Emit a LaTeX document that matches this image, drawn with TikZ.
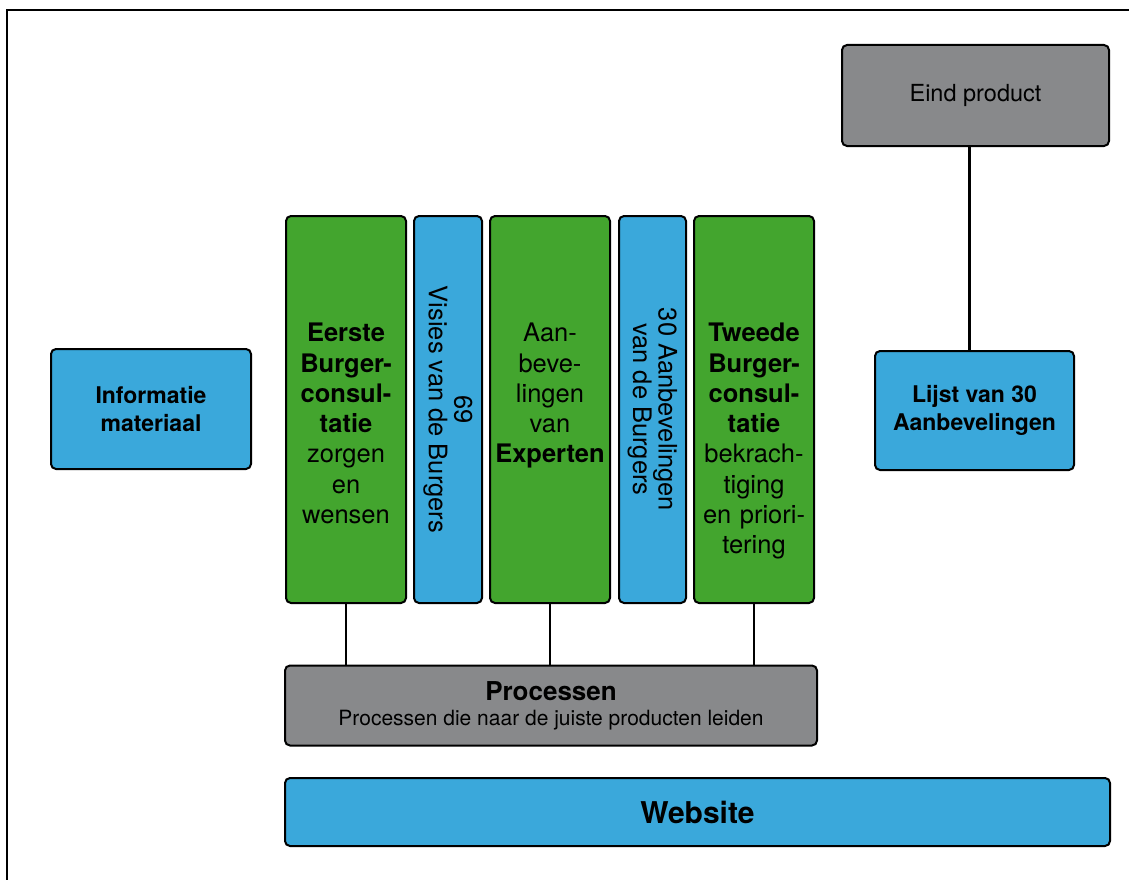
\documentclass[tikz,border=0pt]{standalone}
\usepackage{fontspec}
\setmainfont{TeX Gyre Heros}
\usetikzlibrary{positioning}

\definecolor{burgergreen}{RGB}{67,165,46}
\definecolor{burgerblue}{RGB}{58,168,219}
\definecolor{procgray}{RGB}{136,137,139}

\begin{document}
\begin{tikzpicture}[x=1pt,y=-1pt]
% Stijlen
\tikzset{
  box/.style={rectangle, rounded corners=5pt, draw=black, line width=2pt, inner sep=0pt},
  greencol/.style={box, fill=burgergreen, minimum width=120pt, minimum height=387pt},
  bluecol/.style={box, fill=burgerblue, minimum width=68pt, minimum height=387pt},
  bluebox/.style={box, fill=burgerblue, align=center, font=\fontsize{23}{28}\selectfont\bfseries},
  graybox/.style={box, fill=procgray, align=center},
  coltext/.style={anchor=north, inner sep=0pt, text width=120pt, align=center, font=\fontsize{25.5}{30.3}\selectfont},
  rottext/.style={rotate=-90, inner sep=0pt, align=center, font=\fontsize{25.5}{25.5}\selectfont},
  link/.style={draw=black, line width=1.5pt}
}
\useasboundingbox (0,0) rectangle (1129,880);

% Kader
\draw[line width=2.5pt] (7,880) -- (7,10) -- (1129,10);

% Informatie materiaal
\node[bluebox, minimum width=200pt, minimum height=120pt] (info_box) at (151,409) {Informatie\\materiaal};

% Kolommen
\node[greencol] (eerste_col) at (346,409.5) {};
\node[bluecol] (visies_col) at (448,409.5) {};
\node[greencol] (experten_col) at (550,409.5) {};
\node[bluecol, minimum width=67pt] (aanbev_col) at (652.5,409.5) {};
\node[greencol] (tweede_col) at (754,409.5) {};

\node[coltext] (eerste_text) at (346,323) {\textbf{Eerste}\\\textbf{Burger-}\\\textbf{consul-}\\\textbf{tatie}\\zorgen\\en\\wensen};
\node[rottext] (visies_text) at (visies_col) {69\\Visies van de Burgers};
\node[coltext] (experten_text) at (550,323) {Aan-\\beve-\\lingen\\van\\\textbf{Experten}};
\node[rottext] (aanbev_text) at (aanbev_col) {30 Aanbevelingen\\van de Burgers};
\node[coltext] (tweede_text) at (754,323) {\textbf{Tweede}\\\textbf{Burger-}\\\textbf{consul-}\\\textbf{tatie}\\bekrach-\\tiging\\en priori-\\tering};

% Processen
\node[graybox, minimum width=532pt, minimum height=80pt, font=\fontsize{21}{25}\selectfont] (proc_box) at (551,705.5)
  {{\fontsize{26}{28}\selectfont\bfseries Processen}\\Processen die naar de juiste producten leiden};

% Website
\node[bluebox, minimum width=825pt, minimum height=68pt, font=\fontsize{30}{34}\selectfont\bfseries] (web_box) at (697.5,812) {Website};

% Eindproduct en lijst
\node[graybox, minimum width=267pt, minimum height=101pt, font=\fontsize{23.5}{28}\selectfont] (eind_box) at (975.5,95.5) {Eind product};
\node[bluebox, minimum width=199pt, minimum height=119pt] (lijst_box) at (974.5,410.5) {Lijst van 30\\Aanbevelingen};

% Verbindingen
\draw[link] (eerste_col.south) -- (eerste_col.south |- proc_box.north);
\draw[link] (experten_col.south) -- (experten_col.south |- proc_box.north);
\draw[link] (tweede_col.south) -- (tweede_col.south |- proc_box.north);
\draw[link, line width=3pt] ([xshift=-6pt]eind_box.south) -- ([xshift=-6pt]eind_box.south |- lijst_box.north);

\end{tikzpicture}
\end{document}
